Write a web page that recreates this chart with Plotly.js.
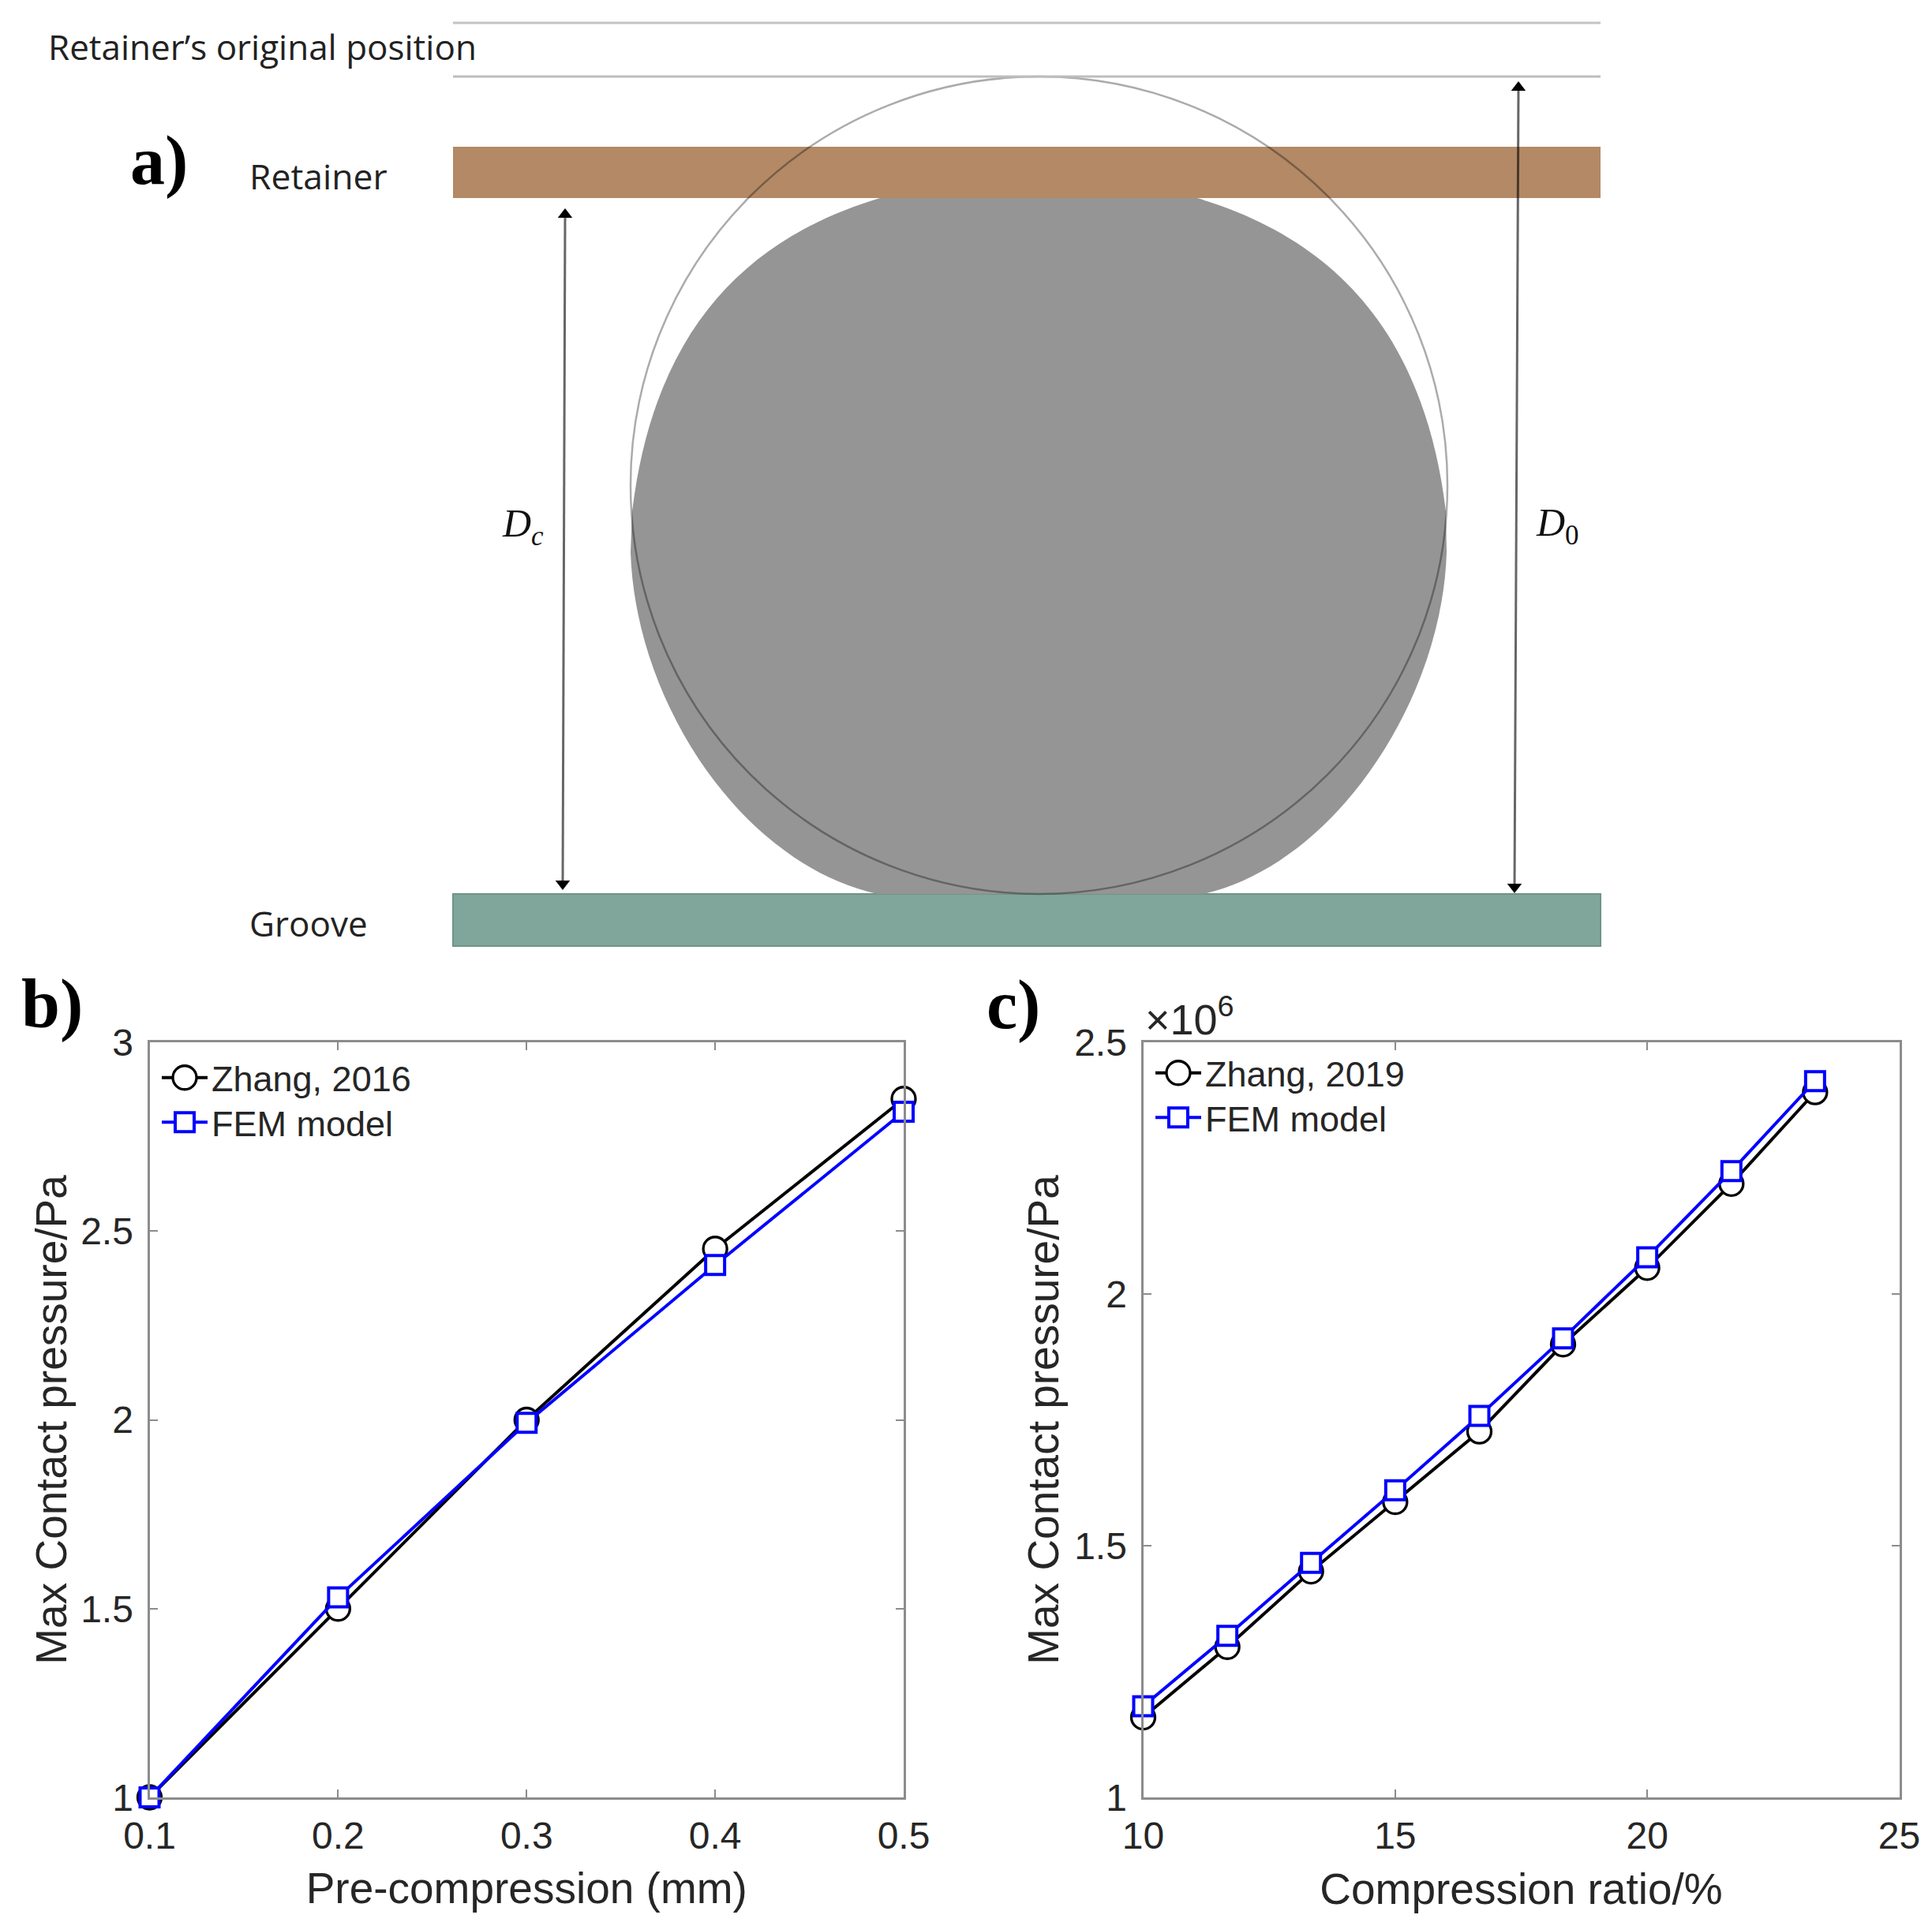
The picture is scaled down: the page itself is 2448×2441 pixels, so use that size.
<!DOCTYPE html>
<html><head><meta charset="utf-8">
<script src="https://cdn.plot.ly/plotly-3.0.1.min.js"></script>
<style>html,body{margin:0;padding:0;background:#fff}#c{width:2448px;height:2441px}</style>
</head><body><div id="c"></div>
<script>
// Panel b
var preCompression = [0.1, 0.2, 0.3, 0.4, 0.5];
var zhang2016 = [1.0, 1.5, 2.0, 2.453, 2.85];
var femB = [1.0, 1.53, 1.992, 2.41, 2.816];
// Panel c (values in units of 10^6 Pa)
var compressionRatio = [10, 11.67, 13.33, 15, 16.67, 18.33, 20, 21.67, 23.33];
var zhang2019 = [1.159, 1.299, 1.449, 1.587, 1.727, 1.9, 2.052, 2.219, 2.401];
var femC = [1.181, 1.321, 1.466, 1.61, 1.758, 1.912, 2.073, 2.244, 2.423];
// Panel a: dimension arrows
var dcX = [716, 713], dcY = [272, 1120];
var d0X = [1924, 1919], d0Y = [111, 1124];

var W = 2448, H = 2441, FONT = '"Liberation Sans", Arial, sans-serif', TXT = '#262626';
var bx = [189.5, 1145], cx = [1448.5, 2406.5], py = [1321, 2278];
function axis(dom, range, tickvals, ticktext, title, anchor, standoff, tstand) {
  return {domain: dom, range: range, tickvals: tickvals, ticktext: ticktext, anchor: anchor,
    mirror: 'ticks', showline: true, linecolor: '#8c8c8c', linewidth: 3, ticks: 'inside', ticklen: 10, tickwidth: 2, tickcolor: '#8c8c8c',
    showgrid: false, zeroline: false, tickfont: {family: FONT, size: 48, color: TXT}, ticklabelstandoff: tstand,
    title: {text: title, font: {family: FONT, size: 55, color: TXT}, standoff: standoff}};
}
var xb = [bx[0]/W, bx[1]/W], xc = [cx[0]/W, cx[1]/W], yd = [1-py[1]/H, 1-py[0]/H];
function ser(x, y, name, xa, ya, leg, color, sym, sz, lw) {
  return {x: x, y: y, name: name, xaxis: xa, yaxis: ya, legend: leg, mode: 'lines+markers', type: 'scatter', cliponaxis: false,
    line: {color: color, width: 4}, marker: {symbol: sym, size: sz, color: '#fff', line: {color: color, width: lw}}};
}
function arr(x, y) {
  return {x: x, y: y, xaxis: 'x3', yaxis: 'y3', mode: 'lines+markers', type: 'scatter', showlegend: false, hoverinfo: 'skip',
    line: {color: 'rgba(0,0,0,0.6)', width: 3}, marker: {symbol: ['triangle-up', 'triangle-down'], size: 16, color: '#000', line: {width: 0}}};
}
var traces = [
  arr(dcX, dcY),
  arr(d0X, d0Y),
  ser(preCompression, zhang2016, 'Zhang, 2016', 'x', 'y', 'legend', '#000', 'circle', 30, 3.3),
  ser(preCompression, femB, 'FEM model', 'x', 'y', 'legend', '#0000ff', 'square', 24, 4),
  ser(compressionRatio, zhang2019, 'Zhang, 2019', 'x2', 'y2', 'legend2', '#000', 'circle', 30, 3.3),
  ser(compressionRatio, femC, 'FEM model', 'x2', 'y2', 'legend2', '#0000ff', 'square', 24, 4)
];
function lbl(x, y, t, size, fam, color, anchor) {
  return {xref: 'x3', yref: 'y3', x: x, y: y, text: t, showarrow: false, xanchor: anchor || 'left', yanchor: 'middle',
    font: {family: fam, size: size, color: color || '#222'}};
}
var SANS = '"Open Sans", sans-serif', SER = '"Liberation Serif", serif';
var legendBase = {xanchor: 'left', yanchor: 'top', bgcolor: 'rgba(0,0,0,0)', borderwidth: 0, itemwidth: 58, font: {family: FONT, size: 45, color: TXT}};
function leg(x, y) { return Object.assign({x: x/W, y: 1-y/H}, legendBase); }
var sealPath = 'M1115 251 C945 302 829 418 801 648 L799 700 C805 890 940 1095 1112 1133 L1525 1133 C1690 1095 1827 890 1833 700 L1832 648 C1804 418 1687 302 1517 251 Z';
var layout = {
  width: W, height: H, margin: {l: 0, r: 0, t: 0, b: 0}, paper_bgcolor: '#fff', plot_bgcolor: 'rgba(0,0,0,0)', showlegend: true,
  xaxis: axis(xb, [0.1, 0.5], [0.1,0.2,0.3,0.4,0.5], ['0.1','0.2','0.3','0.4','0.5'], 'Pre-compression (mm)', 'y', 22, 4),
  yaxis: axis(yd, [1, 3], [1,1.5,2,2.5,3], ['1','1.5','2','2.5','3'], 'Max Contact pressure/Pa', 'x', 0, 8),
  xaxis2: axis(xc, [10, 25], [10,15,20,25], ['10','15','20','25'], 'Compression ratio/%', 'y2', 23, 4),
  yaxis2: axis(yd, [1, 2.5], [1,1.5,2,2.5], ['1','1.5','2','2.5'], 'Max Contact pressure/Pa', 'x2', 2, 8),
  xaxis3: {domain: [0, 1], range: [0, W], visible: false, anchor: 'y3', fixedrange: true},
  yaxis3: {domain: [0, 1], range: [H, 0], visible: false, anchor: 'x3', fixedrange: true},
  legend: leg(200, 1330),
  legend2: leg(1459, 1324),
  shapes: [
    {type: 'rect', xref: 'x3', yref: 'y3', x0: 574, x1: 2028, y0: 186, y1: 251, fillcolor: '#b38966', line: {width: 0}, layer: 'below'},
    {type: 'rect', xref: 'x3', yref: 'y3', x0: 574, x1: 2028, y0: 1133, y1: 1199, fillcolor: '#80a59a', line: {color: '#6f9488', width: 2}, layer: 'below'},
    {type: 'path', xref: 'x3', yref: 'y3', path: sealPath, fillcolor: '#959595', line: {width: 0}, layer: 'below'},
    {type: 'circle', xref: 'x3', yref: 'y3', x0: 799, x1: 1834, y0: 97, y1: 1133, line: {color: 'rgba(0,0,0,0.33)', width: 2.5}},
    {type: 'line', xref: 'x3', yref: 'y3', x0: 574, x1: 2028, y0: 29, y1: 29, line: {color: '#c4c4c4', width: 3}},
    {type: 'line', xref: 'x3', yref: 'y3', x0: 574, x1: 2028, y0: 97, y1: 97, line: {color: '#bdbdbd', width: 3}}
  ],
  annotations: [
    lbl(59, 59, 'Retainer’s original position', 44, SANS),
    lbl(314, 222, 'Retainer', 44.5, SANS),
    lbl(314, 1170, 'Groove', 44, SANS),
    lbl(163, 203, '<b>a)</b>', 88, SER, '#000'),
    lbl(25, 1272, '<b>b)</b>', 88, SER, '#000'),
    lbl(1248, 1273, '<b>c)</b>', 88, SER, '#000'),
    lbl(634, 667, '<i>D</i><sub><i>c</i></sub>', 50, SER, '#111'),
    lbl(1944, 666, '<i>D</i><sub>0</sub>', 50, SER, '#111'),
    lbl(1449, 1288, '×10<sup>6</sup>', 54, FONT, TXT)
  ]
};
Plotly.newPlot('c', traces, layout, {displayModeBar: false, responsive: false}).then(function () {
  // Plotly caps legend symbols at 16 px; bring them up to the size used in the plot and tighten the row pitch
  document.querySelectorAll('.legend, .legend2').forEach(function (g) {
    g.querySelectorAll('.scatterpts').forEach(function (p) {
      var sw = parseFloat(p.style.strokeWidth) || 3.5, t = p.getAttribute('transform') || '';
      var isCircle = (p.getAttribute('d') || '').indexOf('A') >= 0, s = (isCircle ? 30 : 24) / 16;
      p.setAttribute('transform', t + ' scale(' + s + ')');
      p.style.strokeWidth = (sw / s) + 'px';
    });
    g.querySelectorAll('.traces').forEach(function (tr, i) {
      var m = /translate\(([^,]+),\s*([^)]+)\)/.exec(tr.getAttribute('transform') || '');
      if (m) tr.setAttribute('transform', 'translate(' + m[1] + ',' + (parseFloat(m[2]) - 5 * i) + ')');
    });
  });
});
</script></body></html>
